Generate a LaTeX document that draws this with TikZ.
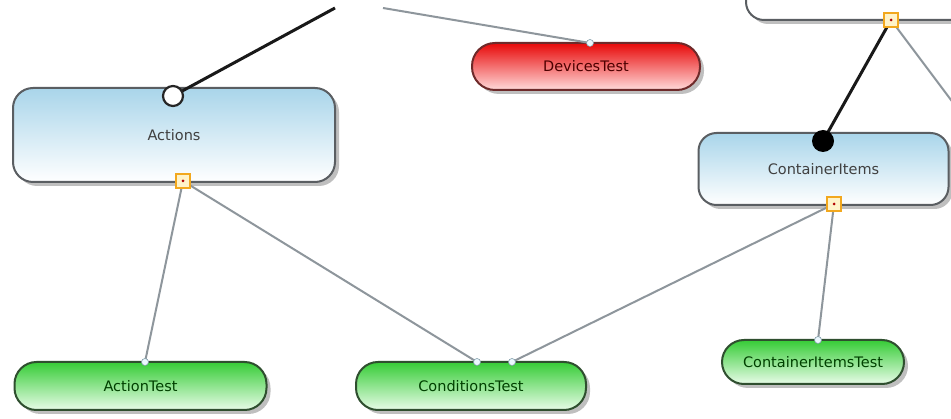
\documentclass[tikz,border=0pt]{standalone}
\usepackage{fontspec}
\setmainfont{DejaVu Sans}
\usetikzlibrary{shadows}
\definecolor{boxedge}{HTML}{5A5E62}
\definecolor{bluetop}{HTML}{A9D5EA}
\definecolor{redtop}{HTML}{E80808}
\definecolor{redbot}{HTML}{FFDADA}
\definecolor{rededge}{HTML}{6E2A2A}
\definecolor{greentop}{HTML}{36CC36}
\definecolor{greenbot}{HTML}{E8FCE8}
\definecolor{greenedge}{HTML}{2F4F2F}
\definecolor{wire}{HTML}{8E969C}
\definecolor{portorange}{HTML}{F2A81E}
\definecolor{portfill}{HTML}{FFF3C8}
\tikzset{
  shadowed/.style={drop shadow={shadow xshift=4pt, shadow yshift=-4pt, fill=black, opacity=0.25}},
  label font/.style={font=\fontsize{14.5}{17}\selectfont},
  entity/.style={shadowed, draw=boxedge, line width=2pt, rounded corners=20pt,
    top color=bluetop, bottom color=white, text=black!75, label font, inner sep=0pt},
  failtest/.style={shadowed, draw=rededge, line width=2pt, rounded corners=23pt,
    top color=redtop, bottom color=redbot, text=red!30!black, label font, inner sep=0pt},
  passtest/.style={shadowed, draw=greenedge, line width=2pt, rounded corners=22pt,
    top color=greentop, bottom color=greenbot, text=green!25!black, label font, inner sep=0pt},
  wireline/.style={draw=wire, line width=2pt},
  ownline/.style={draw=black!90, line width=3pt},
  portsq/.style={draw=portorange, fill=portfill, line width=2.5pt, minimum size=14pt, inner sep=0pt},
  portdot/.style={fill=red!70!black, circle, inner sep=0pt, minimum size=3pt},
  pin/.style={circle, fill=cyan!8, draw=cyan!25!gray, line width=0.6pt, minimum size=7pt, inner sep=0pt},
}
\begin{document}
\begin{tikzpicture}[x=1pt,y=-1pt]
\useasboundingbox (0,0) rectangle (951,419);
\clip (0,0) rectangle (951,419);
\fill[white] (0,0) rectangle (951,419);

% partially visible entity at the top right
\path[shadowed, draw=boxedge, line width=2pt, rounded corners=18pt, fill=white]
  (746,-60) rectangle (1000,20);

% entities
\node[entity, minimum width=322pt, minimum height=94pt] (actions) at (174,135) {Actions};
\node[entity, rounded corners=18pt, minimum width=250pt, minimum height=72pt] (items) at (823.5,169) {ContainerItems};

% tests
\node[failtest, minimum width=228pt, minimum height=47pt] (devices) at (586,66.5) {DevicesTest};
\node[passtest, minimum width=252pt, minimum height=48pt] (actiontest) at (140.5,386) {ActionTest};
\node[passtest, minimum width=230pt, minimum height=48pt] (condtest) at (471,386) {ConditionsTest};
\node[passtest, minimum width=182pt, minimum height=44pt] (itemstest) at (813,362) {ContainerItemsTest};

% free ends of the wires leaving the view
\coordinate (upA) at (335,8);
\coordinate (upB) at (383,8);
\coordinate (rightC) at (960,112);

% ports
\coordinate (topport) at (891,20);
\coordinate (actport) at (183,181);
\coordinate (itemport) at (834,204);
\coordinate (actin) at (173,96);
\coordinate (itemin) at (823,141);
\coordinate (atin) at (145,362);
\coordinate (ctinA) at (477,362);
\coordinate (ctinB) at (512,362);
\coordinate (itin) at (818,340);
\coordinate (devin) at (590,43);

% wires
\draw[wireline] (upB) -- (devin);
\draw[wireline] (topport) -- (rightC);
\draw[wireline] (actport) -- (atin);
\draw[wireline] (actport) -- (ctinA);
\draw[wireline] (itemport) -- (ctinB);
\draw[wireline] (itemport) -- (itin);
\draw[ownline] (upA) -- (actin);
\draw[ownline] (topport) -- (itemin);

% port markers
\node[circle, draw=black!85, fill=white, line width=2.2pt, minimum size=20pt, inner sep=0pt] (actcirc) at (actin) {};
\node[circle, fill=black, minimum size=22pt, inner sep=0pt] (itemcirc) at (itemin) {};
\node[portsq] (sqA) at (actport) {};
\node[portdot] at (sqA) {};
\node[portsq] (sqB) at (itemport) {};
\node[portdot] at (sqB) {};
\node[portsq] (sqC) at (topport) {};
\node[portdot] at (sqC) {};
\node[pin] (p1) at (devin) {};
\node[pin] (p2) at (atin) {};
\node[pin] (p3) at (ctinA) {};
\node[pin] (p4) at (ctinB) {};
\node[pin] (p5) at (itin) {};
\end{tikzpicture}
\end{document}
